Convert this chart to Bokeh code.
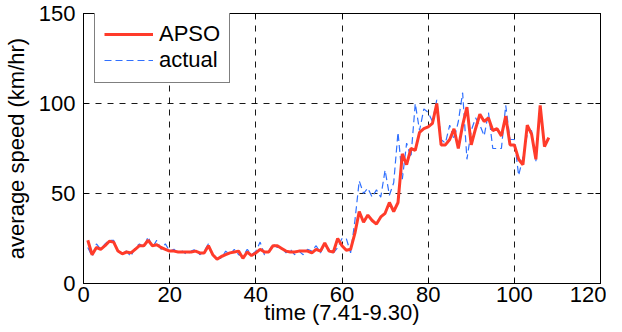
from bokeh.plotting import figure
from bokeh.models import LinearAxis, Range1d, FixedTicker, Legend, LegendItem
from bokeh.embed import file_html
from bokeh.resources import INLINE

x_vals = list(range(1, 109))
apso = [24, 16, 20, 19, 21, 23.5, 23, 18, 16.5, 17.5,
        17, 19, 21, 21, 24, 21, 21.5, 20, 19, 18,
        18, 17.5, 17.5, 17.5, 17.5, 18, 17, 17, 21, 16,
        13.5, 15, 16, 17, 17.5, 18, 14, 17.5, 15.5, 17,
        19, 17.5, 17.5, 21, 21, 19.5, 18, 17.5, 17.5, 18,
        18, 18, 17, 19, 18, 22.5, 18, 17.5, 25, 21,
        18.5, 19, 28, 40, 34, 38, 35, 33, 37, 39,
        45, 40, 45, 72, 66, 75, 74, 84, 86, 87,
        89, 100, 77, 77, 80, 86, 75, 88, 98, 77,
        86, 94, 90, 92, 85, 86, 82, 93, 77, 77,
        69, 66, 88, 83, 69, 99, 76, 81]
actual = [20, 15, 22, 19, 22, 24, 24, 18, 17, 18,
          15, 20, 22, 20, 26, 20, 24, 19, 22, 18,
          19, 17, 18, 16, 18, 19, 16, 18, 22, 15,
          14, 14, 18, 16, 19, 16, 15, 19, 16, 18,
          23, 16, 18, 22, 20, 20, 17, 19, 16, 18,
          16, 19, 18, 21, 17, 22, 19, 17, 20, 25,
          25, 17, 35, 57, 50, 53, 48, 52, 48, 63,
          49, 56, 84, 58, 78, 70, 100, 85, 97, 95,
          90, 102, 80, 78, 88, 80, 90, 106, 69, 85,
          92, 88, 82, 95, 75, 75, 75, 99, 80, 80,
          60, 70, 83, 85, 68, 96, 76, 82]
x_ticks = [0, 20, 40, 60, 80, 100, 120]
y_ticks = [0, 50, 100, 150]
x_label = "time (7.41-9.30)"
y_label = "average speed (km/hr)"

FONT = "Liberation Sans"

p = figure(frame_width=517, frame_height=270, output_backend="svg", toolbar_location=None,
           x_range=Range1d(0, 120), y_range=Range1d(0, 150),
           min_border_left=10, min_border_right=6, min_border_top=13, min_border_bottom=10)
p.outline_line_color = "black"
p.outline_line_width = 1
p.background_fill_color = "white"

r_act = p.line(x_vals, actual, line_color="#3070ff", line_width=1.2, line_dash="7 4")
r_apso = p.line(x_vals, apso, line_color="#ff3b2a", line_width=3)

for ax, ticks in ((p.xaxis[0], x_ticks), (p.yaxis[0], y_ticks)):
    ax.ticker = FixedTicker(ticks=ticks)
    ax.major_tick_in = 5
    ax.major_tick_out = 0
    ax.minor_tick_line_color = None
    ax.axis_line_color = "black"
    ax.major_label_text_font = FONT
    ax.major_label_text_font_size = "22px"
    ax.major_label_text_color = "black"
    ax.axis_label_text_font = FONT
    ax.axis_label_text_font_size = "22px"
    ax.axis_label_text_font_style = "normal"
    ax.axis_label_text_color = "black"

p.xaxis.axis_label = x_label
p.yaxis.axis_label = y_label
p.xaxis.major_label_standoff = 3
p.xaxis.axis_label_standoff = -5
p.yaxis.major_label_standoff = 8
p.yaxis.axis_label_standoff = 7

for loc, ticks in (("above", x_ticks), ("right", y_ticks)):
    a = LinearAxis(ticker=FixedTicker(ticks=ticks))
    a.major_tick_in = 5
    a.major_tick_out = 0
    a.minor_tick_line_color = None
    a.major_label_text_alpha = 0
    a.major_label_text_font_size = "1px"
    a.major_label_standoff = 0
    p.add_layout(a, loc)

for g in (p.xgrid[0], p.ygrid[0]):
    g.grid_line_color = "black"
    g.grid_line_dash = "6 6"
    g.grid_line_width = 1
    g.grid_line_alpha = 0.9
p.xgrid[0].ticker = FixedTicker(ticks=x_ticks)
p.ygrid[0].ticker = FixedTicker(ticks=y_ticks)

legend = Legend(items=[LegendItem(label="APSO", renderers=[r_apso]),
                       LegendItem(label="actual", renderers=[r_act])],
                location=(11, 200))
legend.margin = 0
legend.padding = 9
legend.spacing = 0
legend.glyph_width = 49
legend.glyph_height = 24
legend.label_height = 24
legend.label_standoff = 6
legend.label_text_font = FONT
legend.label_text_font_size = "22px"
legend.label_text_color = "black"
legend.border_line_color = "black"
legend.border_line_width = 1
legend.background_fill_alpha = 1
p.add_layout(legend, "center")

open("out.html", "w").write(file_html(p, INLINE))
